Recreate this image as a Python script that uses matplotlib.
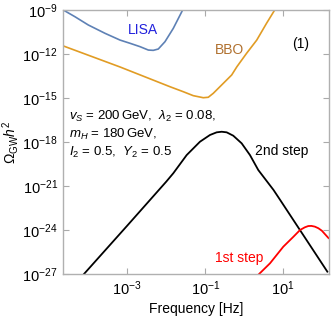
import matplotlib
matplotlib.use("Agg")
import matplotlib.pyplot as plt
import numpy as np

plt.rcParams['font.family'] = ['Liberation Sans', 'DejaVu Sans']
plt.rcParams['mathtext.fontset'] = 'custom'
plt.rcParams['mathtext.rm'] = 'Liberation Sans'
plt.rcParams['mathtext.it'] = 'Liberation Sans:italic'

# log10(frequency [Hz]) and log10(Omega_GW h^2)
lisa_logf = [-4.64, -4.34, -4.00, -3.57, -3.185, -2.928, -2.672, -2.46, -2.333,
             -2.205, -2.033, -1.82, -1.58]
lisa_logo = [-9.00, -9.46, -10.02, -10.59, -11.05, -11.27, -11.50, -11.73, -11.75,
             -11.66, -11.16, -10.25, -9.00]

bbo_logf = [-4.64, -3.18, -1.905, -1.564, -1.308, -1.051, -0.923, -0.795, -0.538,
            -0.323, -0.19, 0.06, 0.32, 0.57, 0.78]
bbo_logo = [-11.45, -12.89, -14.23, -14.57, -14.84, -14.98, -14.95, -14.68, -14.00,
            -13.43, -12.87, -11.95, -11.05, -9.91, -9.00]

step2_logf = [-4.11, -3.0, -2.0, -1.82, -1.477, -1.136, -0.879, -0.708, -0.579,
              -0.451, -0.282, -0.067, 0.146, 0.359, 0.75, 0.92, 2.13]
step2_logo = [-27.0, -23.7, -20.7, -20.13, -18.89, -17.98, -17.52, -17.34, -17.30,
              -17.34, -17.57, -18.09, -18.89, -19.91, -21.27, -21.95, -26.84]

step1_logf = [0.38, 0.66, 1.00, 1.26, 1.43, 1.55, 1.64, 1.72, 1.81, 1.90, 1.99, 2.16]
step1_logo = [-27.0, -26.27, -25.14, -24.46, -24.0, -23.82, -23.73, -23.72, -23.77,
              -23.88, -24.05, -24.55]

xticks = [1e-3, 1e-1, 1e1]
xticklabels = [r'$10^{-3}$', r'$10^{-1}$', r'$10^{1}$']
yticks = [1e-27, 1e-24, 1e-21, 1e-18, 1e-15, 1e-12, 1e-9]
yticklabels = [r'$10^{-27}$', r'$10^{-24}$', r'$10^{-21}$', r'$10^{-18}$',
               r'$10^{-15}$', r'$10^{-12}$', r'$10^{-9}$']

fig = plt.figure(figsize=(3.32, 3.21), dpi=100)
ax = fig.add_axes([0.1907, 0.1464, 0.7988, 0.8224])

def pw(a):
    return 10.0 ** np.array(a)

ax.plot(pw(lisa_logf), pw(lisa_logo), color='#5e81b5', lw=1.2)
ax.plot(pw(bbo_logf), pw(bbo_logo), color='#e19c24', lw=1.2)
ax.plot(pw(step2_logf), pw(step2_logo), color='black', lw=1.3)
ax.plot(pw(step1_logf), pw(step1_logo), color='red', lw=1.3)

ax.set_xscale('log')
ax.set_yscale('log')
ax.set_xlim(10 ** -4.64, 10 ** 2.16)
ax.set_ylim(1e-27, 1e-9)
ax.set_xticks(xticks)
ax.set_xticklabels(xticklabels)
ax.set_yticks(yticks)
ax.set_yticklabels(yticklabels)
ax.minorticks_off()
ax.tick_params(direction='in', length=4, width=0.8, color='#aaaaaa',
               labelsize=10.5, top=True, right=True, pad=4)

for s in ax.spines.values():
    s.set_color('#b0b0b0')
    s.set_linewidth(1.0)

ax.set_xlabel('Frequency [Hz]', fontsize=10, labelpad=3)
ax.set_ylabel(r'$\Omega_{\rm GW}h^2$', fontsize=10, labelpad=1)

ax.text(0.300, 0.925, 'LISA', color='#2222dd', fontsize=10, ha='center', va='center', transform=ax.transAxes)
ax.text(0.627, 0.848, 'BBO', color='#b0702e', fontsize=10, ha='center', va='center', transform=ax.transAxes)
ax.text(0.894, 0.871, '(1)', color='black', fontsize=10, ha='center', va='center', transform=ax.transAxes)
ax.text(0.825, 0.466, '2nd step', color='black', fontsize=10, ha='center', va='center', transform=ax.transAxes)
ax.text(0.662, 0.061, '1st step', color='red', fontsize=10, ha='center', va='center', transform=ax.transAxes)

ax.text(0.02, 0.595, r'$v_S$ = 200$\,$GeV,  $\lambda_2$ = 0.08,', fontsize=9.5,
        ha='left', va='center', transform=ax.transAxes)
ax.text(0.02, 0.527, r'$m_H$ = 180$\,$GeV,', fontsize=9.5,
        ha='left', va='center', transform=ax.transAxes)
ax.text(0.02, 0.462, r'$I_2$ = 0.5,  $Y_2$ = 0.5', fontsize=9.5,
        ha='left', va='center', transform=ax.transAxes)

plt.savefig('out.png', dpi=100)
plt.close()
